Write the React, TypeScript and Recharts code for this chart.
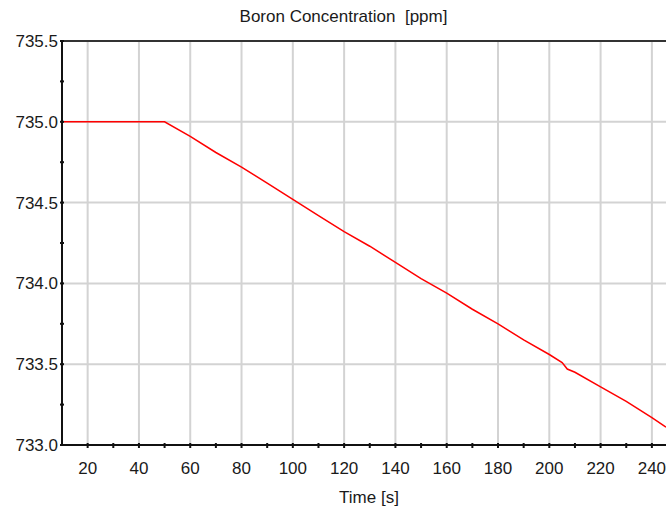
import React from 'react'
import { LineChart, Line, XAxis, YAxis, CartesianGrid, ReferenceLine } from 'recharts'

// time [s] and boron concentration [ppm]
const times = [10, 20, 30, 40, 50, 60, 70, 80, 90, 100, 110, 120, 130, 140, 150, 160, 170, 180, 190, 200, 205, 207, 210, 220, 230, 240, 245.5]
const boron = [735.0, 735.0, 735.0, 735.0, 735.0, 734.91, 734.81, 734.72, 734.62, 734.52, 734.42, 734.32, 734.23, 734.13, 734.03, 733.94, 733.84, 733.75, 733.65, 733.56, 733.51, 733.47, 733.45, 733.36, 733.27, 733.17, 733.11]

const xTicks = [10, 20, 30, 40, 50, 60, 70, 80, 90, 100, 110, 120, 130, 140, 150, 160, 170, 180, 190, 200, 210, 220, 230, 240]
const xMajor = [20, 40, 60, 80, 100, 120, 140, 160, 180, 200, 220, 240]
const yTicks = [733.0, 733.25, 733.5, 733.75, 734.0, 734.25, 734.5, 734.75, 735.0, 735.25, 735.5]
const yMajor = [733.0, 733.5, 734.0, 734.5, 735.0, 735.5]

const data = times.map((t, i) => ({ t, ppm: boron[i] }))

const FONT = '"Liberation Sans", Arial, sans-serif'
const TEXT = '#1a1a1a'

const XTick = ({ x, y, payload }: any) => {
  const major = xMajor.includes(payload.value)
  return (
    <g>
      {payload.value !== 10 && (
        <line x1={x} x2={x} y1={y - 2} y2={y + 3} stroke="#111" strokeWidth={2} />
      )}
      {major && (
        <text x={x} y={y + 29} textAnchor="middle" fontSize={17} fontFamily={FONT} fill={TEXT}>
          {payload.value}
        </text>
      )}
    </g>
  )
}

const YTick = ({ x, y, payload }: any) => {
  const major = yMajor.includes(payload.value)
  return (
    <g>
      <line x1={x - 2} x2={x + 2} y1={y} y2={y} stroke="#111" strokeWidth={2} />
      {major && (
        <text x={x - 4} y={y + 6} textAnchor="end" fontSize={17} fontFamily={FONT} fill={TEXT}>
          {payload.value.toFixed(1)}
        </text>
      )}
    </g>
  )
}

export default function App() {
  return (
    <div style={{ position: 'absolute', left: 0, top: 0, width: 666, height: 513, overflow: 'hidden', background: '#fff' }}>
      <div style={{ position: 'absolute', left: 143.5, top: 8, width: 400, textAlign: 'center', fontFamily: FONT, fontSize: 17, lineHeight: '17px', color: TEXT }}>
        Boron Concentration&nbsp;&nbsp;[ppm]
      </div>
      <div style={{ position: 'absolute', left: 169, top: 489, width: 400, textAlign: 'center', fontFamily: FONT, fontSize: 17, lineHeight: '17px', color: TEXT }}>
        Time [s]
      </div>
      <LineChart width={666} height={513} data={data} margin={{ top: 41, right: 0, left: 0, bottom: 0 }}>
        <CartesianGrid
          stroke="#d3d3d3"
          strokeWidth={2}
          horizontalValues={yMajor}
          verticalValues={xMajor}
        />
        <XAxis
          dataKey="t"
          type="number"
          domain={[10, 245.5]}
          ticks={xTicks}
          allowDataOverflow
          height={68}
          tickSize={0}
          tickMargin={0}
          tickLine={false}
          tick={<XTick />}
          interval={0}
          axisLine={{ stroke: '#111', strokeWidth: 2 }}
        />
        <YAxis
          type="number"
          domain={[733.0, 735.5]}
          ticks={yTicks}
          allowDataOverflow
          width={62}
          tickSize={0}
          tickMargin={0}
          tickLine={false}
          tick={<YTick />}
          interval={0}
          axisLine={{ stroke: '#111', strokeWidth: 2 }}
        />
        <ReferenceLine y={735.5} stroke="#333" strokeWidth={2} />
        <Line
          type="linear"
          dataKey="ppm"
          stroke="#ff0000"
          strokeWidth={1.5}
          dot={false}
          isAnimationActive={false}
        />
      </LineChart>
    </div>
  )
}
